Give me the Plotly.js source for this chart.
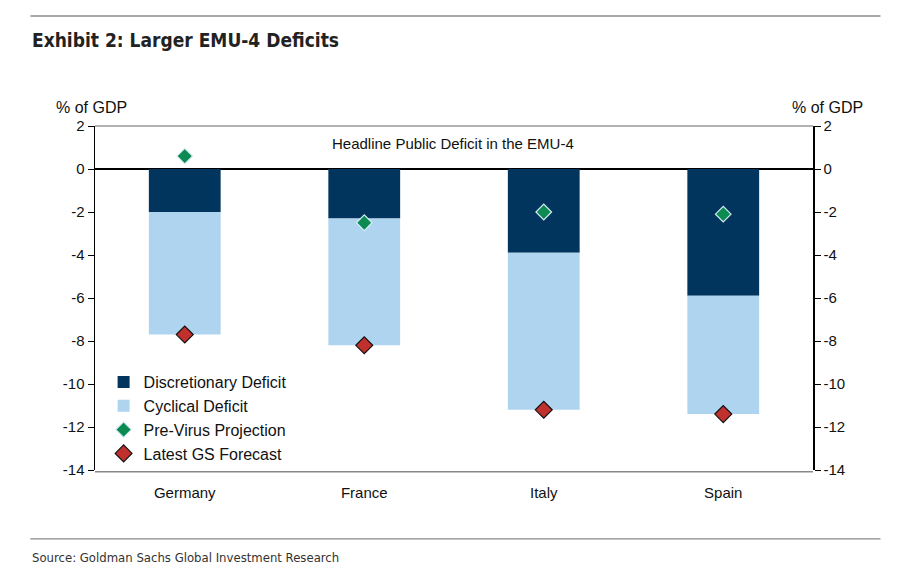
<!DOCTYPE html>
<html><head><meta charset="utf-8">
<script src="https://cdn.plot.ly/plotly-3.0.1.min.js"></script>
<style>body{margin:0;background:#fff}#c{width:900px;height:576px}</style>
</head><body><div id="c"></div>
<script>
const countries = ["Germany", "France", "Italy", "Spain"];
const discretionary = [-2.0, -2.3, -3.9, -5.9];
const cyclical = [-5.7, -5.9, -7.3, -5.5];
const preVirus = [0.6, -2.5, -2.0, -2.1];
const latestGS = [-7.7, -8.2, -11.2, -11.4];
const yTicks = [2, 0, -2, -4, -6, -8, -10, -12, -14];
const yTickLabels = ["2", "0", "-2", "-4", "-6", "-8", "-10", "-12", "-14"];

const font = "Liberation Sans, Arial, sans-serif";
const narrow = "DejaVu Sans Condensed, Liberation Sans Narrow, Arial Narrow, sans-serif";
const traces = [
  {type:"bar", x:countries, y:discretionary, name:"Discretionary Deficit",
   marker:{color:"#02355e", line:{width:0}}, width:0.4},
  {type:"bar", x:countries, y:cyclical, name:"Cyclical Deficit",
   marker:{color:"#aed4f0", line:{width:0}}, width:0.4},
  {type:"scatter", mode:"markers", x:countries, y:preVirus, name:"Pre-Virus Projection",
   marker:{symbol:"diamond", size:12, color:"#0b8a52", line:{color:"#d6ecf5", width:1.2}}},
  {type:"scatter", mode:"markers", x:countries, y:latestGS, name:"Latest GS Forecast",
   marker:{symbol:"diamond", size:13, color:"#c0302d", line:{color:"#111", width:1.2}}},
  {type:"scatter", mode:"markers", x:countries, y:latestGS, yaxis:"y2", showlegend:false,
   hoverinfo:"skip", marker:{opacity:0}}
];
const axisCommon = {range:[-14,2], tickvals:yTicks, ticktext:yTickLabels, ticks:"outside", ticklen:6, tickcolor:"#000",
  showline:true, linecolor:"#000", linewidth:1.5, showgrid:false,
  tickfont:{family:font, size:15, color:"#111"}};
const layout = {
  width:900, height:576, paper_bgcolor:"#fff", plot_bgcolor:"#fff",
  margin:{l:95, r:87, t:126, b:106},
  barmode:"relative", showlegend:true,
  legend:{x:0.012, y:0.305, xanchor:"left", yanchor:"top", bgcolor:"rgba(0,0,0,0)",
    font:{family:font, size:16, color:"#111"}, tracegroupgap:0, itemwidth:30},
  xaxis:{type:"category", range:[-0.5,3.5], showline:false, ticks:"", showgrid:false,
    ticklabelstandoff:12,
    tickfont:{family:font, size:15, color:"#111"}, zeroline:false},
  yaxis:Object.assign({}, axisCommon, {zeroline:true, zerolinecolor:"#000", zerolinewidth:2.5}),
  yaxis2:Object.assign({}, axisCommon, {overlaying:"y", side:"right", zeroline:false}),
  shapes:[
    {type:"line", xref:"paper", yref:"paper", x0:0, x1:1, y0:1, y1:1, line:{color:"#999", width:1.5}},
    {type:"line", xref:"paper", yref:"paper", x0:0, x1:1, y0:-0.005, y1:-0.005, line:{color:"#888", width:1.5}},
    {type:"line", xref:"paper", yref:"paper", x0:-0.09, x1:1.094, y0:1.32, y1:1.32, line:{color:"#aaa", width:2}, layer:"above"},
    {type:"line", xref:"paper", yref:"paper", x0:-0.09, x1:1.094, y0:-0.2, y1:-0.2, line:{color:"#888", width:1.2}}
  ],
  annotations:[
    {xref:"paper", yref:"paper", x:-0.091, y:1.25, xanchor:"left", yanchor:"middle", showarrow:false,
     text:"<b>Exhibit 2: Larger EMU-4 Deficits</b>", font:{family:narrow, size:19, color:"#222"}},
    {xref:"paper", yref:"paper", x:-0.057, y:1.055, xanchor:"left", yanchor:"middle", showarrow:false,
     text:"% of GDP", font:{family:font, size:16, color:"#111"}},
    {xref:"paper", yref:"paper", x:1.073, y:1.055, xanchor:"right", yanchor:"middle", showarrow:false,
     text:"% of GDP", font:{family:font, size:16, color:"#111"}},
    {xref:"paper", yref:"paper", x:0.498, y:0.948, xanchor:"center", yanchor:"middle", showarrow:false,
     text:"Headline Public Deficit in the EMU-4", font:{family:font, size:15, color:"#111"}},
    {xref:"paper", yref:"paper", x:-0.091, y:-0.253, xanchor:"left", yanchor:"middle", showarrow:false,
     text:"Source: Goldman Sachs Global Investment Research", font:{family:narrow, size:13, color:"#333"}}
  ]
};
Plotly.newPlot("c", traces, layout, {displayModeBar:false, staticPlot:true});
</script></body></html>
